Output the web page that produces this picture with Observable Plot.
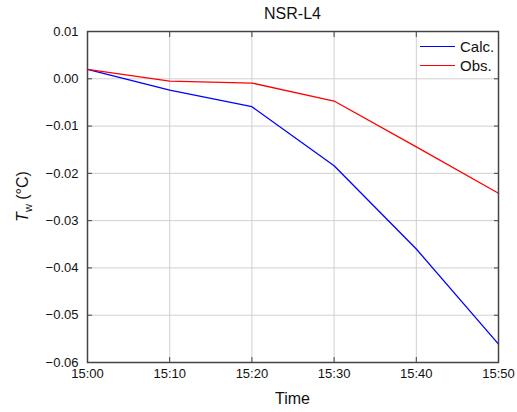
<!DOCTYPE html>
<html>
<head>
<meta charset="utf-8">
<script src="https://cdn.jsdelivr.net/npm/d3@7"></script>
<script src="https://cdn.jsdelivr.net/npm/@observablehq/plot@0.6"></script>
<style>
  body { margin: 0; background: #fff; font-family: "Liberation Sans", Arial, sans-serif; }
  #wrap { position: relative; width: 517px; height: 412px; }
  #title { position: absolute; left: 87px; width: 411px; top: 5px; text-align: center; font-size: 16px; color: #111; }
  #legend { position: absolute; left: 420px; top: 37px; font-size: 15px; color: #111; }
  #legend div { display: flex; align-items: center; height: 19px; }
  #legend span.sw { display: inline-block; width: 35px; height: 0; border-top: 1.3px solid; margin-right: 5px; }
</style>
</head>
<body>
<div id="wrap">
  <div id="title">NSR-L4</div>
  <div id="chart"></div>
  <div id="legend"></div>
</div>
<script>
const times = ["15:00", "15:10", "15:20", "15:30", "15:40", "15:50"];
const calc = [0.0020, -0.0024, -0.0059, -0.0184, -0.0360, -0.0561];
const obs = [0.0020, -0.0005, -0.0009, -0.0047, -0.0144, -0.0242];
const seriesNames = ["Calc.", "Obs."];
const seriesColors = ["#0000ff", "#ff0000"];
const yTicks = [0.01, 0.00, -0.01, -0.02, -0.03, -0.04, -0.05, -0.06];

const parse = d3.utcParse("%H:%M");
const data = [];
times.forEach((t, i) => {
  data.push({time: parse(t), value: calc[i], series: seriesNames[0]});
  data.push({time: parse(t), value: obs[i], series: seriesNames[1]});
});
const xTicks = times.map(parse);
const fmtY = d3.format(".2f");
const blank = () => "";

const plot = Plot.plot({
  width: 517,
  height: 412,
  marginLeft: 87,
  marginRight: 19,
  marginTop: 31,
  marginBottom: 50,
  style: {fontFamily: "Liberation Sans, Arial, sans-serif", fontSize: "13px", color: "#111", background: "#fff"},
  x: {type: "utc", domain: [parse("15:00"), parse("15:50")]},
  y: {domain: [-0.06, 0.01]},
  color: {domain: seriesNames, range: seriesColors},
  marks: [
    Plot.gridX(xTicks, {stroke: "#d0d0d0", strokeOpacity: 1, strokeWidth: 1}),
    Plot.gridY(yTicks, {stroke: "#d0d0d0", strokeOpacity: 1, strokeWidth: 1}),
    Plot.axisX(xTicks, {anchor: "bottom", tickSize: -5, tickPadding: 11, tickFormat: d3.utcFormat("%H:%M"), label: null, stroke: "#444", fontSize: 13}),
    Plot.axisX(xTicks, {anchor: "top", tickSize: -5, tickFormat: blank, label: null, stroke: "#444"}),
    Plot.axisY(yTicks, {anchor: "left", tickSize: -5, tickPadding: 14, tickFormat: fmtY, label: null, stroke: "#444", fontSize: 13}),
    Plot.axisY(yTicks, {anchor: "right", tickSize: -5, tickFormat: blank, label: null, stroke: "#444"}),
    Plot.line(data, {x: "time", y: "value", z: "series", stroke: "series", strokeWidth: 1.3}),
    Plot.frame({stroke: "#444", strokeWidth: 1.5})
  ]
});
document.getElementById("chart").appendChild(plot);

// axis titles
const svg = d3.select(plot);
svg.append("text")
  .attr("x", (87 + 498) / 2).attr("y", 404)
  .attr("text-anchor", "middle")
  .attr("font-size", 16).attr("fill", "#111")
  .text("Time");
const yl = svg.append("text")
  .attr("transform", `translate(28,${(31 + 362) / 2}) rotate(-90)`)
  .attr("text-anchor", "middle")
  .attr("font-size", 16).attr("fill", "#111");
yl.append("tspan").attr("font-style", "italic").text("T");
yl.append("tspan").attr("font-size", 11).attr("dy", 4).text("w");
yl.append("tspan").attr("dy", -4).text(" (°C)");

// legend
const lg = document.getElementById("legend");
seriesNames.forEach((n, i) => {
  const row = document.createElement("div");
  const sw = document.createElement("span");
  sw.className = "sw";
  sw.style.borderTopColor = seriesColors[i];
  row.appendChild(sw);
  row.appendChild(document.createTextNode(n));
  lg.appendChild(row);
});
</script>
</body>
</html>
